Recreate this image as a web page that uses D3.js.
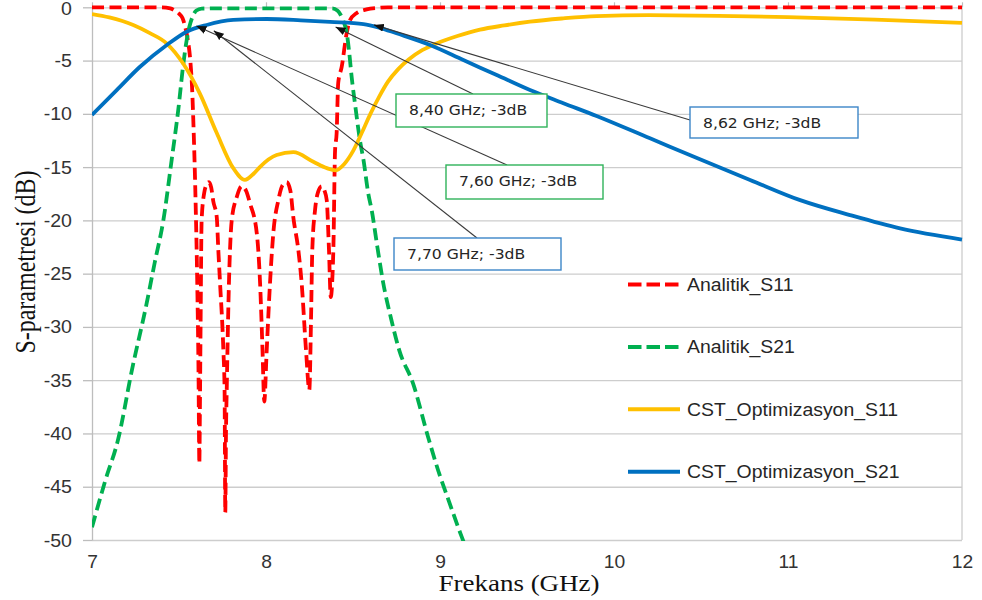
<!DOCTYPE html>
<html>
<head>
<meta charset="utf-8">
<script src="https://cdn.jsdelivr.net/npm/d3@7"></script>
<style>
  html, body { margin: 0; padding: 0; background: #ffffff; }
  svg { display: block; }
</style>
</head>
<body>
<svg id="chart" width="982" height="600"></svg>
<script>
// ---- data -------------------------------------------------------------
const xTicks = [7, 8, 9, 10, 11, 12];
const yTicks = [0, -5, -10, -15, -20, -25, -30, -35, -40, -45, -50];

const seriesNames = ["Analitik_S11", "Analitik_S21", "CST_Optimizasyon_S11", "CST_Optimizasyon_S21"];

// Analitik S11 (dB)
const a11Freq = [7.00, 7.40, 7.45, 7.48, 7.50, 7.52, 7.535, 7.55, 7.565, 7.575, 7.585, 7.595, 7.605, 7.612, 7.617,
  7.620, 7.624, 7.630, 7.645, 7.660, 7.672, 7.685, 7.697, 7.717, 7.726, 7.736, 7.755, 7.762, 7.766,
  7.770, 7.775, 7.787, 7.803, 7.832, 7.860, 7.885, 7.908, 7.947, 7.966, 7.980, 7.990,
  8.004, 8.023, 8.042, 8.071, 8.095, 8.119, 8.140, 8.157, 8.186, 8.205, 8.230, 8.249,
  8.259, 8.266, 8.282, 8.300, 8.320, 8.336, 8.349, 8.362, 8.372,
  8.387, 8.397, 8.406, 8.415, 8.435, 8.464, 8.483, 8.520, 8.578, 8.650, 8.700, 12.00];
const a11dB = [0, 0, -0.1, -0.35, -0.6, -1.0, -1.8, -3.0, -5.0, -7.5, -12, -18, -26, -34, -42.8,
  -38, -30, -20, -17.4, -16.6, -16.4, -16.9, -18.2, -19.7, -22.8, -25.9, -32.2, -35.9, -47.4,
  -40, -35.3, -25.9, -20.0, -17.8, -16.8, -17.2, -18.4, -21.2, -25.9, -32.2, -37.0,
  -32.2, -25.9, -21.2, -18.1, -16.7, -16.4, -17.2, -19.7, -22.8, -25.9, -32.2, -35.9,
  -29.1, -22.8, -19.0, -17.3, -16.8, -17.2, -18.1, -22.8, -27.2,
  -22.8, -13.4, -11.8, -7.1, -5.6, -2.4, -1.2, -0.55, -0.2, -0.05, 0, 0];

// Analitik S21 (dB)
const a21Freq = [7.00, 7.075, 7.151, 7.23, 7.314, 7.36, 7.41, 7.458, 7.496, 7.525, 7.545, 7.56, 7.58, 7.60, 7.63,
  7.70, 8.00, 8.38, 8.41, 8.425, 8.445, 8.464, 8.478, 8.492, 8.515, 8.54, 8.56, 8.588, 8.607, 8.64,
  8.674, 8.72, 8.766, 8.845, 8.931, 8.99, 9.05, 9.12, 9.18];
const a21dB = [-48.8, -44.5, -40.5, -34.0, -27.8, -24.0, -20.0, -14.3, -9.6, -5.3, -3.0, -1.8, -0.8, -0.3, -0.12,
  -0.1, -0.1, -0.1, -0.3, -0.6, -1.3, -2.4, -4.2, -6.5, -9.5, -12.5, -14.3, -17.5, -19.0, -22.5,
  -25.9, -29.3, -32.2, -35.3, -40.3, -43.5, -46.3, -49.5, -52.0];

// CST optimisation S11 (dB)
const c11Freq = [7.00, 7.10, 7.237, 7.33, 7.43, 7.525, 7.62, 7.717, 7.812, 7.879, 7.93, 7.966, 8.061, 8.157,
  8.272, 8.35, 8.40, 8.45, 8.50, 8.55, 8.60, 8.65, 8.70, 8.76, 8.82, 8.90, 8.98, 9.10, 9.23, 9.37,
  9.517, 9.70, 9.90, 10.20, 10.60, 11.00, 11.50, 12.00];
const c11dB = [-0.63, -0.95, -1.66, -2.4, -3.4, -5.3, -8.1, -11.8, -15.1, -16.2, -15.6, -14.97, -13.87, -13.6,
  -14.5, -15.1, -15.3, -14.7, -13.5, -11.8, -10.0, -8.4, -7.0, -5.8, -4.9, -4.0, -3.4, -2.7, -2.1, -1.7,
  -1.35, -1.05, -0.82, -0.74, -0.8, -0.92, -1.15, -1.47];

// CST optimisation S21 (dB)
const c21Freq = [7.00, 7.142, 7.276, 7.43, 7.544, 7.659, 7.812, 8.004, 8.20, 8.368, 8.56, 8.65, 8.75, 8.943,
  9.134, 9.326, 9.517, 9.709, 9.90, 10.207, 10.494, 10.782, 11.07, 11.356, 11.644, 12.00];
const c21dB = [-10.1, -7.77, -5.58, -3.54, -2.29, -1.66, -1.19, -1.1, -1.22, -1.37, -1.57, -1.9, -2.44, -3.54,
  -4.95, -6.36, -7.77, -9.0, -10.2, -12.3, -14.27, -16.2, -18.1, -19.5, -20.75, -21.8];

// -3 dB markers
const markerText = ["8,40 GHz; -3dB", "7,60 GHz; -3dB", "7,70 GHz; -3dB", "8,62 GHz; -3dB"];
const markerFreq = [8.40, 7.60, 7.70, 8.62];
const markerDb = [-1.85, -1.75, -2.2, -1.65];

// ---- layout -----------------------------------------------------------
const plot = { left: 92, right: 962, top: 7.3, bottom: 540 };
const colors = ["#ff0000", "#00b050", "#ffc000", "#0070c0"];
const dashes = ["12,5.5", "12,5.5", null, null];

const svg = d3.select("#chart");
const x = d3.scaleLinear().domain([7, 12]).range([plot.left, plot.right]);
const y = d3.scaleLinear().domain([-50, 0]).range([plot.bottom, plot.top]);

const SANS = "'Liberation Sans', Arial, sans-serif";
const SERIF = "'Liberation Serif', 'Times New Roman', serif";
const plainNumber = d => String(d);

// horizontal grid lines
const grid = svg.append("g").attr("transform", `translate(${plot.left},0)`)
  .call(d3.axisLeft(y).tickValues(yTicks).tickSize(-(plot.right - plot.left)).tickFormat(""));
grid.select(".domain").remove();
grid.selectAll(".tick line").attr("stroke", "#cdcdcd").attr("stroke-width", 1.3);

// right border
svg.append("line")
  .attr("x1", plot.right).attr("x2", plot.right)
  .attr("y1", plot.top).attr("y2", plot.bottom)
  .attr("stroke", "#cdcdcd").attr("stroke-width", 1.3);

// y axis with outward ticks and labels
const yAxis = svg.append("g").attr("transform", `translate(${plot.left},0)`)
  .call(d3.axisLeft(y).tickValues(yTicks).tickSize(9).tickSizeOuter(0).tickPadding(11).tickFormat(plainNumber));
yAxis.select(".domain").attr("stroke", "#bdbdbd").attr("stroke-width", 1.3);
yAxis.selectAll(".tick line").attr("stroke", "#bdbdbd").attr("stroke-width", 1.3);
yAxis.selectAll(".tick text")
  .attr("x", 0).attr("dy", 0).attr("y", 0)
  .attr("transform", d => d === 0 ? "translate(-20,6.8) scale(1.12,1)" : "translate(-20,6) scale(1.12,1)")
  .attr("font-family", SANS).attr("font-size", "17.5px").attr("fill", "#333333");

// small top ticks on the frequency axis
const topAxis = svg.append("g").attr("transform", `translate(0,${plot.top})`)
  .call(d3.axisTop(x).tickValues(xTicks).tickSize(5).tickSizeOuter(0).tickFormat(""));
topAxis.select(".domain").remove();
topAxis.selectAll(".tick line").attr("stroke", "#bdbdbd").attr("stroke-width", 1.2);

// frequency labels along the bottom
const xAxis = svg.append("g").attr("transform", `translate(0,${plot.bottom})`)
  .call(d3.axisBottom(x).tickValues(xTicks).tickSize(0).tickFormat(plainNumber));
xAxis.select(".domain").remove();
xAxis.selectAll(".tick text")
  .attr("y", 0).attr("dy", 0)
  .attr("transform", "translate(0,27.5) scale(1.1,1)")
  .attr("font-family", SANS).attr("font-size", "17.5px").attr("fill", "#333333");

// axis titles
svg.append("text")
  .attr("transform", "translate(519,591) scale(1.2,1)")
  .attr("text-anchor", "middle")
  .attr("font-family", SERIF).attr("font-size", "22.5px").attr("fill", "#111")
  .text("Frekans (GHz)");
svg.append("text")
  .attr("transform", "translate(35,262) scale(1.25,1) rotate(-90)")
  .attr("text-anchor", "middle")
  .attr("font-family", SERIF).attr("font-size", "24px").attr("fill", "#111")
  .text("S-parametresi (dB)");

// ---- series -----------------------------------------------------------
svg.append("clipPath").attr("id", "plotClip")
  .append("rect")
  .attr("x", plot.left).attr("y", 0)
  .attr("width", plot.right - plot.left + 4).attr("height", plot.bottom + 1);

const series = [
  { f: a11Freq, v: a11dB },
  { f: a21Freq, v: a21dB },
  { f: c11Freq, v: c11dB },
  { f: c21Freq, v: c21dB }
];

const line = d3.line()
  .x(d => x(d[0]))
  .y(d => y(d[1]))
  .curve(d3.curveMonotoneX);

const lines = svg.append("g").attr("clip-path", "url(#plotClip)");
series.forEach((s, i) => {
  const pts = s.f.map((f, k) => [f, s.v[k]]);
  lines.append("path")
    .datum(pts)
    .attr("d", line)
    .attr("fill", "none")
    .attr("stroke", colors[i])
    .attr("stroke-width", 3.8)
    .attr("stroke-dasharray", dashes[i])
    .attr("stroke-linejoin", "round");
});

// ---- legend -----------------------------------------------------------
const legend = svg.append("g").attr("transform", "translate(628,284.5)");
seriesNames.forEach((name, i) => {
  const g = legend.append("g").attr("transform", `translate(0,${i * 62.4})`);
  g.append("line")
    .attr("x1", 0).attr("x2", 52).attr("y1", 0).attr("y2", 0)
    .attr("stroke", colors[i]).attr("stroke-width", 4)
    .attr("stroke-dasharray", dashes[i] ? "13.5,5" : null);
  g.append("text")
    .attr("transform", "translate(59,6.5) scale(1.05,1)")
    .attr("font-family", SANS).attr("font-size", "18.5px").attr("fill", "#262626")
    .text(name);
});

// ---- -3 dB callouts ---------------------------------------------------
const defs = svg.append("defs");
defs.append("marker")
  .attr("id", "arrowHead")
  .attr("viewBox", "0 0 10 8")
  .attr("refX", 10).attr("refY", 4)
  .attr("markerWidth", 10).attr("markerHeight", 8)
  .attr("markerUnits", "userSpaceOnUse")
  .attr("orient", "auto")
  .append("path").attr("d", "M0,0 L10,4 L0,8 Z").attr("fill", "#111");

// box frame and leader-line start for each callout
const callouts = [
  { bx: 396, by: 94, bw: 151, bh: 33, lx: 473, ly: 94, border: "#2fb35a" },
  { bx: 446, by: 165, bw: 157, bh: 34, lx: 507, ly: 165, border: "#2fb35a" },
  { bx: 394, by: 238, bw: 167, bh: 32, lx: 477, ly: 238, border: "#3d86c8" },
  { bx: 690, by: 107, bw: 168, bh: 31, lx: 690, ly: 120, border: "#3d86c8" }
];

const ann = svg.append("g");
callouts.forEach((c, i) => {
  ann.append("line")
    .attr("x1", c.lx).attr("y1", c.ly)
    .attr("x2", x(markerFreq[i])).attr("y2", y(markerDb[i]))
    .attr("stroke", "#3a3a3a").attr("stroke-width", 1.1)
    .attr("marker-end", "url(#arrowHead)");
});
callouts.forEach((c, i) => {
  ann.append("rect")
    .attr("x", c.bx).attr("y", c.by).attr("width", c.bw).attr("height", c.bh)
    .attr("fill", "#ffffff").attr("stroke", c.border).attr("stroke-width", 1.4);
  ann.append("text")
    .attr("transform", `translate(${c.bx + 13},${c.by + 20.5}) scale(1.14,1)`)
    .attr("font-family", "'DejaVu Sans', Verdana, sans-serif").attr("font-size", "13.7px").attr("fill", "#262626")
    .text(markerText[i]);
});
</script>
</body>
</html>
